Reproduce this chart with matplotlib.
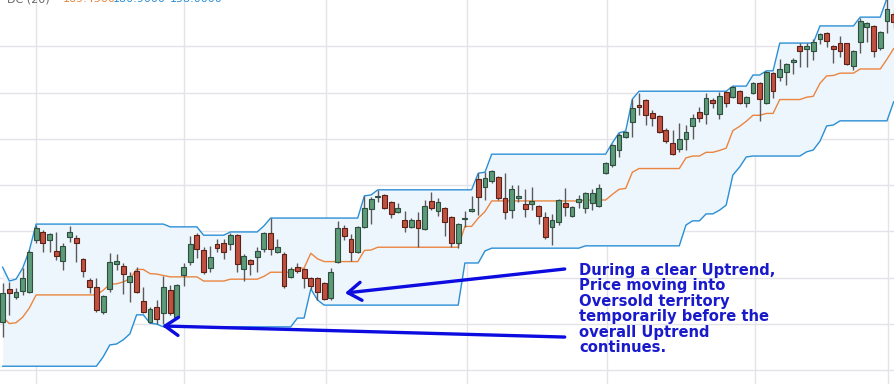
import matplotlib
matplotlib.use("Agg")
import matplotlib.pyplot as plt
import numpy as np

# daily candles (price units)
opens = [
    110.4, 117.6, 115.8, 117.1, 116.9, 128.2, 129.9, 128.2, 125.8, 123.6,
    128.8, 128.6, 124.1, 119.5, 118.0, 112.6, 117.6, 123.0, 122.5, 119.1,
    121.5, 115.0, 110.4, 113.7, 112.4, 117.4, 111.5, 120.6, 123.4, 129.2,
    126.0, 122.1, 127.3, 127.5, 127.3, 129.2, 121.9, 123.8, 124.5, 126.2,
    129.7, 125.6, 125.1, 120.2, 122.3, 121.9, 120.0, 120.0, 118.9, 115.6,
    123.4, 130.8, 128.4, 125.6, 131.0, 134.9, 137.4, 137.9, 136.4, 134.2,
    132.5, 131.0, 132.5, 130.5, 136.6, 134.4, 135.1, 133.1, 127.5, 132.7,
    134.4, 141.3, 139.6, 140.9, 141.8, 137.2, 134.6, 137.2, 135.9, 135.9,
    135.5, 133.1, 131.0, 132.0, 136.2, 133.3, 136.4, 135.1, 136.2, 135.5,
    142.6, 144.4, 147.6, 150.4, 153.6, 157.3, 158.4, 155.6, 154.9, 151.9,
    149.1, 147.8, 150.0, 152.8, 155.8, 155.4, 158.4, 155.4, 160.1, 159.0,
    160.3, 157.8, 159.9, 162.1, 157.8, 164.2, 163.4, 164.4, 166.6, 170.1,
    169.4, 169.0, 171.6, 172.9, 170.1, 170.7, 170.7, 165.7, 170.9, 174.2,
    174.4, 169.6, 175.5, 177.0,
]
closes = [
    116.7, 116.7, 116.9, 120.0, 125.6, 130.8, 127.5, 129.5, 124.7, 126.9,
    129.9, 127.5, 121.5, 118.0, 113.0, 116.1, 123.4, 123.6, 120.8, 120.4,
    116.9, 112.6, 113.3, 111.1, 118.0, 112.4, 118.4, 122.3, 127.3, 126.2,
    121.2, 124.5, 126.4, 125.6, 129.2, 123.0, 124.7, 123.0, 125.8, 129.7,
    126.2, 126.6, 118.2, 121.9, 121.5, 120.0, 118.2, 116.9, 115.4, 121.2,
    130.8, 129.0, 125.6, 131.0, 135.1, 137.0, 137.7, 135.1, 133.8, 135.1,
    131.0, 132.5, 130.8, 135.5, 135.1, 136.4, 132.0, 127.5, 131.6, 132.9,
    134.9, 137.4, 141.6, 143.1, 137.2, 134.2, 139.2, 137.7, 134.9, 136.6,
    133.3, 128.8, 132.5, 136.8, 135.3, 135.3, 137.0, 138.3, 138.3, 139.4,
    144.8, 148.7, 150.8, 151.5, 156.7, 156.9, 155.2, 154.5, 151.5, 149.5,
    146.7, 150.0, 151.5, 154.5, 154.5, 158.8, 157.8, 159.3, 157.8, 161.2,
    157.8, 159.0, 162.1, 158.6, 164.4, 160.3, 165.1, 166.2, 167.0, 169.0,
    170.1, 170.9, 172.7, 171.1, 169.4, 169.0, 166.2, 169.0, 175.5, 175.0,
    169.0, 173.1, 178.1, 175.2,
]
highs = [
    118.9, 119.1, 117.8, 122.1, 126.0, 131.4, 130.3, 129.7, 129.9, 127.5,
    131.2, 129.2, 124.3, 120.0, 120.0, 116.3, 125.4, 125.1, 123.2, 121.2,
    122.3, 118.0, 113.7, 115.2, 120.4, 118.4, 118.7, 123.2, 129.0, 129.7,
    126.6, 126.9, 128.4, 128.4, 129.7, 129.5, 125.1, 124.1, 126.6, 129.9,
    132.9, 128.4, 125.6, 122.3, 123.2, 122.1, 120.2, 120.2, 119.1, 122.1,
    132.3, 131.4, 129.5, 131.2, 137.7, 137.4, 139.0, 138.1, 136.6, 136.2,
    134.4, 132.9, 134.2, 136.8, 138.5, 137.2, 135.3, 133.3, 131.8, 134.4,
    137.7, 142.6, 142.8, 143.3, 142.0, 142.6, 140.0, 140.0, 139.2, 139.6,
    135.7, 134.2, 133.8, 137.0, 139.4, 135.5, 137.9, 138.5, 139.2, 140.3,
    145.0, 148.9, 151.3, 151.7, 158.6, 159.9, 158.6, 156.2, 155.2, 152.4,
    151.9, 153.4, 153.0, 155.4, 156.9, 159.9, 158.8, 160.1, 160.3, 161.4,
    160.6, 159.3, 162.3, 162.3, 164.7, 164.4, 167.3, 166.4, 167.5, 170.7,
    170.7, 171.6, 172.9, 173.1, 170.3, 172.2, 170.8, 169.2, 176.1, 175.2,
    174.6, 173.3, 180.4, 177.8,
]
lows = [
    107.2, 112.0, 115.4, 116.3, 116.7, 127.5, 125.6, 125.6, 123.8, 121.7,
    127.7, 123.4, 120.2, 116.7, 112.6, 112.2, 116.9, 121.7, 116.5, 114.8,
    116.7, 112.4, 110.2, 110.0, 110.0, 112.0, 111.3, 118.2, 122.8, 124.3,
    120.8, 121.2, 125.6, 124.1, 126.0, 121.2, 119.3, 120.6, 121.2, 125.6,
    124.9, 125.4, 117.8, 120.0, 121.0, 117.8, 117.6, 115.2, 115.2, 115.2,
    123.2, 128.2, 123.6, 125.4, 130.8, 131.6, 136.4, 134.9, 132.9, 134.0,
    129.9, 130.8, 126.6, 130.3, 134.6, 133.3, 129.0, 126.6, 126.4, 131.0,
    134.2, 133.6, 136.8, 140.5, 136.8, 132.7, 132.9, 136.4, 133.1, 134.6,
    131.6, 128.4, 127.1, 131.4, 133.3, 133.1, 135.1, 134.0, 134.6, 135.3,
    142.4, 143.9, 146.1, 150.2, 150.4, 155.2, 153.0, 152.8, 151.3, 149.1,
    146.5, 147.2, 147.6, 150.0, 153.6, 153.2, 156.7, 154.3, 156.9, 158.8,
    157.5, 156.9, 159.7, 153.9, 157.5, 158.8, 162.5, 161.6, 164.0, 165.5,
    165.5, 167.0, 170.5, 169.8, 166.4, 167.7, 166.0, 164.9, 168.6, 170.9,
    167.7, 169.2, 172.9, 174.0,
]

# Donchian channel (20) as drawn
dc_upper = [
    122.3, 119.3, 119.7, 122.1, 126.0, 131.6, 131.6, 131.6, 131.6, 131.6,
    131.6, 131.6, 131.6, 131.6, 131.6, 131.6, 131.6, 131.6, 131.6, 131.6,
    131.6, 131.6, 131.6, 131.6, 131.6, 131.0, 131.0, 131.0, 131.0, 131.0,
    129.2, 129.2, 129.2, 129.2, 129.9, 129.9, 129.9, 129.9, 129.9, 131.2,
    132.9, 132.9, 132.9, 132.9, 132.9, 132.9, 132.9, 132.9, 132.9, 132.9,
    132.9, 132.9, 132.9, 132.9, 137.7, 137.9, 139.0, 139.0, 139.0, 139.0,
    139.0, 139.0, 139.0, 139.0, 139.0, 139.0, 139.0, 139.0, 139.0, 139.0,
    139.0, 142.6, 142.8, 146.7, 146.7, 146.7, 146.7, 146.7, 146.7, 146.7,
    146.7, 146.7, 146.7, 146.7, 146.7, 146.7, 146.7, 146.7, 146.7, 146.7,
    146.7, 149.1, 151.3, 151.7, 158.6, 160.3, 160.3, 160.3, 160.3, 160.3,
    160.3, 160.3, 160.3, 160.3, 160.3, 160.3, 160.3, 160.3, 160.3, 161.4,
    161.4, 161.4, 163.8, 163.8, 164.7, 164.7, 170.7, 170.7, 170.7, 170.7,
    170.7, 170.7, 174.4, 174.4, 174.4, 174.4, 174.4, 174.4, 176.3, 176.3,
    176.3, 176.3, 180.4, 180.9,
]
dc_middle = [
    111.6, 110.1, 110.3, 111.5, 113.5, 116.3, 116.3, 116.3, 116.3, 116.3,
    116.3, 116.3, 116.3, 116.3, 116.3, 117.3, 118.6, 118.7, 119.1, 119.8,
    121.8, 121.8, 120.9, 120.8, 120.5, 120.2, 120.2, 120.2, 120.2, 120.2,
    119.3, 119.3, 119.3, 119.3, 119.7, 119.7, 119.7, 119.7, 119.7, 120.3,
    121.2, 121.2, 121.2, 121.2, 122.1, 122.1, 125.3, 124.1, 123.5, 123.5,
    123.5, 123.5, 123.5, 123.5, 125.9, 126.0, 126.6, 126.6, 126.6, 126.6,
    126.6, 126.6, 126.6, 126.6, 126.6, 126.6, 126.6, 126.6, 126.6, 131.1,
    131.1, 132.9, 134.3, 136.6, 136.6, 136.6, 136.6, 136.6, 136.6, 136.6,
    136.6, 136.6, 136.6, 136.6, 136.6, 136.6, 136.6, 136.8, 136.8, 136.8,
    136.8, 138.0, 139.1, 139.3, 142.8, 143.6, 143.6, 143.6, 143.6, 143.6,
    143.6, 143.6, 145.9, 146.3, 146.3, 147.1, 147.1, 147.5, 148.0, 151.8,
    152.7, 153.8, 155.1, 155.1, 155.5, 155.5, 158.5, 158.5, 158.5, 158.5,
    159.0, 159.2, 162.0, 163.6, 163.7, 164.2, 164.2, 164.2, 165.1, 165.1,
    165.1, 165.1, 167.2, 169.5,
]
dc_lower = [
    100.9, 100.9, 100.9, 100.9, 100.9, 100.9, 100.9, 100.9, 100.9, 100.9,
    100.9, 100.9, 100.9, 100.9, 100.9, 102.9, 105.5, 105.7, 106.6, 107.9,
    112.0, 112.0, 110.2, 110.0, 109.4, 109.4, 109.4, 109.4, 109.4, 109.4,
    109.4, 109.4, 109.4, 109.4, 109.4, 109.4, 109.4, 109.4, 109.4, 109.4,
    109.4, 109.4, 109.4, 109.4, 111.3, 111.3, 117.6, 115.2, 114.1, 114.1,
    114.1, 114.1, 114.1, 114.1, 114.1, 114.1, 114.1, 114.1, 114.1, 114.1,
    114.1, 114.1, 114.1, 114.1, 114.1, 114.1, 114.1, 114.1, 114.1, 123.2,
    123.2, 123.2, 125.8, 126.4, 126.4, 126.4, 126.4, 126.4, 126.4, 126.4,
    126.4, 126.4, 126.4, 126.4, 126.4, 126.4, 126.4, 126.9, 126.9, 126.9,
    126.9, 126.9, 126.9, 126.9, 126.9, 126.9, 126.9, 126.9, 126.9, 126.9,
    126.9, 126.9, 131.4, 132.3, 132.3, 133.8, 133.8, 134.6, 135.7, 142.2,
    143.9, 146.1, 146.3, 146.3, 146.3, 146.3, 146.3, 146.3, 146.3, 146.3,
    147.2, 147.6, 149.5, 152.8, 153.0, 153.9, 153.9, 153.9, 153.9, 153.9,
    153.9, 153.9, 153.9, 158.0,
]

# month gridlines (bar index) and price gridlines
grid_x = [5.0, 27.1, 48.3, 69.3, 90.2, 112.3, 132.2]
grid_y = [100, 110, 120, 130, 140, 150, 160, 170]

legend_vals = ["169.4500", "180.9000", "158.0000"]

note = ("During a clear Uptrend,\nPrice moving into\nOversold territory\n"
        "temporarily before the\noverall Uptrend\ncontinues.")

up_fill, up_edge = "#5c9a78", "#2f4f3e"
dn_fill, dn_edge = "#c0503f", "#5a2119"
band_col, mid_col = "#2b8fd6", "#ea8540"
arrow_col = "#0c0ce0"

fig = plt.figure(figsize=(8.95, 3.84), dpi=100)
ax = fig.add_axes([0, 0, 1, 1])

o = np.array(opens)
c = np.array(closes)
x = np.arange(len(o))
rising = c >= o

# grid
for gx in grid_x:
    ax.axvline(gx, color="#e2e4ea", lw=1.0, zorder=0)
for gy in grid_y:
    ax.axhline(gy, color="#e2e4ea", lw=1.0, zorder=0)

# channel
ax.fill_between(x, dc_lower, dc_upper, color="#eef6fd", lw=0, zorder=1)
ax.plot(x, dc_upper, color=band_col, lw=1.0, zorder=2)
ax.plot(x, dc_lower, color=band_col, lw=1.0, zorder=2)
ax.plot(x, dc_middle, color=mid_col, lw=1.0, zorder=2)

# candles
ax.vlines(x, lows, highs, color="#5a5a5a", lw=1.0, zorder=3)
body_h = np.maximum(np.abs(c - o), 0.25)
ax.bar(x, body_h, bottom=np.minimum(o, c), width=0.72,
       color=np.where(rising, up_fill, dn_fill),
       edgecolor=np.where(rising, up_edge, dn_edge), linewidth=0.8, zorder=4)

# arrows + note
arrow = dict(arrowstyle="->,head_length=0.95,head_width=0.65", color=arrow_col,
             lw=2.4, shrinkA=0, shrinkB=0)
ax.annotate("", xy=(51.1, 116.7), xytext=(83.9, 121.9), arrowprops=arrow, zorder=6)
ax.annotate("", xy=(23.8, 109.6), xytext=(83.9, 107.2), arrowprops=arrow, zorder=6)
ax.text(86.1, 123.2, note, ha="left", va="top", fontsize=10.6, fontweight="bold",
        color="#1a1acd", linespacing=1.04, zorder=7)

# indicator legend, mostly cut off by the top edge (as in the source screenshot)
fig.text(0.008, 0.9935, "DC (20)", color="#666666", fontsize=8, va="baseline")
fig.text(0.070, 0.9935, legend_vals[0], color=mid_col, fontsize=8, va="baseline")
fig.text(0.126, 0.9935, legend_vals[1], color=band_col, fontsize=8, va="baseline")
fig.text(0.190, 0.9935, legend_vals[2], color=band_col, fontsize=8, va="baseline")

ax.set_xlim(-0.39, 133.2)
ax.set_ylim(97.06, 180.0)
ax.axis("off")

plt.savefig("out.png", dpi=100)
plt.close()
